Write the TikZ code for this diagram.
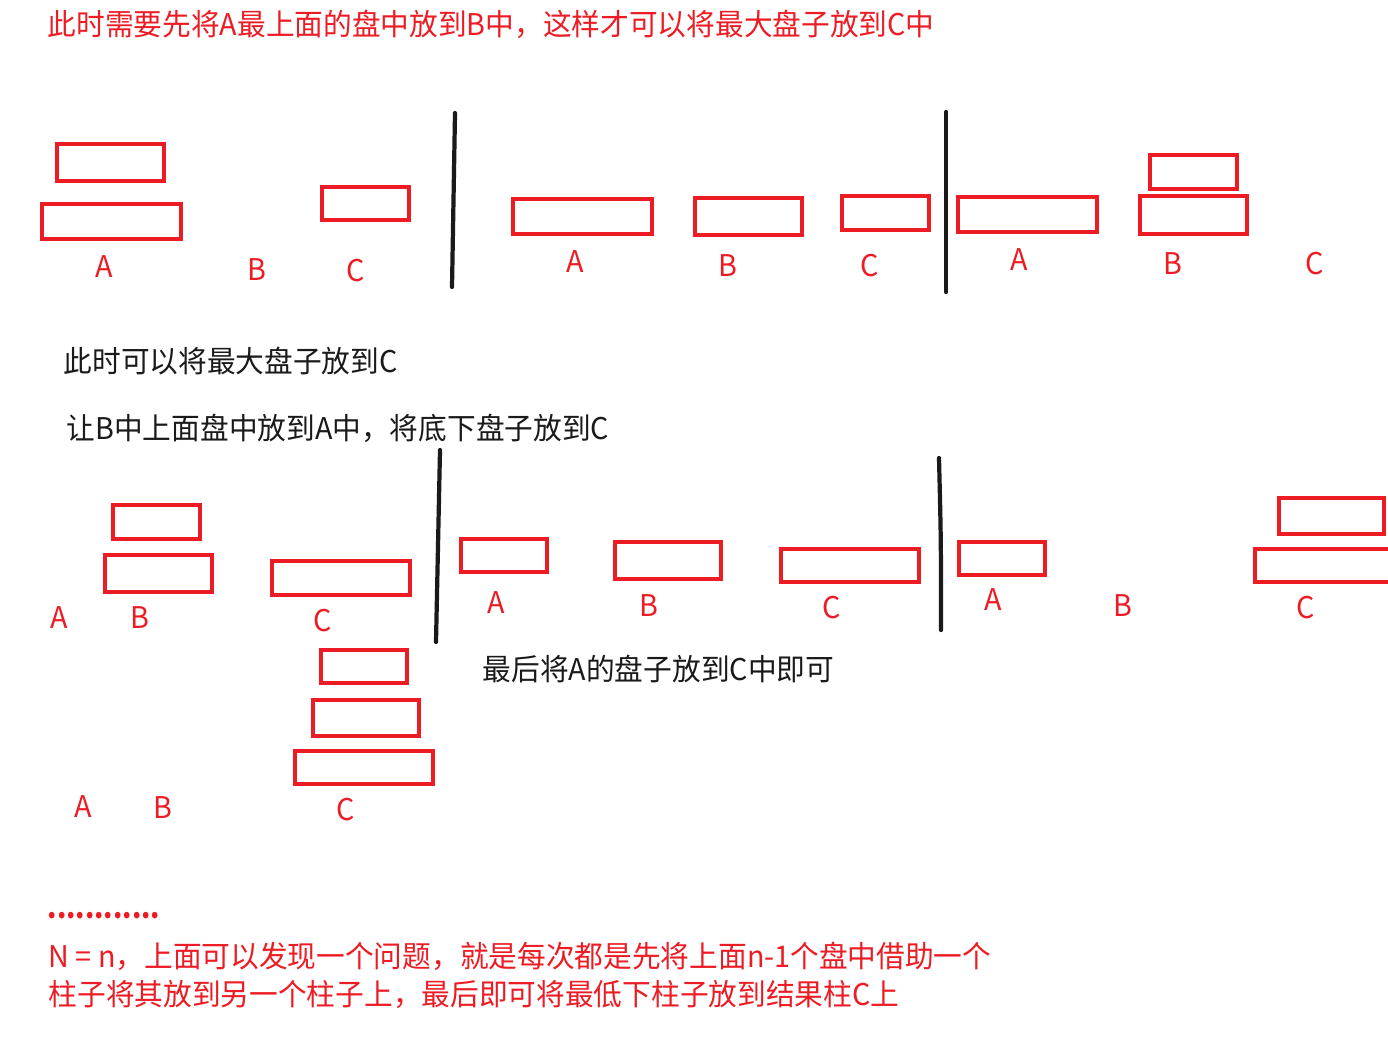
\documentclass[tikz,border=0pt]{standalone}
\usepackage{fontspec}
\setmainfont{Noto Sans CJK SC}[FakeStretch=0.96]
\usetikzlibrary{positioning}
\definecolor{hanoired}{HTML}{ED1C24}
\definecolor{ink}{HTML}{1A1A1A}

\begin{document}
\begin{tikzpicture}[x=0.01cm,y=-0.01cm, every node/.style={inner sep=0pt,font=\fontsize{8.5}{10}\selectfont},
  disk/.style={draw=hanoired,line width=1.15pt},
  peg/.style={text=hanoired},
  note/.style={anchor=west},
  cut/.style={line width=1.2pt,line cap=round,ink}]
\useasboundingbox (0,0) rectangle (1388,1059);
\node[note,text=hanoired] (t1) at (47,24) {此时需要先将A最上面的盘中放到B中，这样才可以将最大盘子放到C中};
\node[disk,minimum width=1.07cm,minimum height=0.37cm] (s1a1) at (110.5,162.5) {};
\node[disk,minimum width=1.39cm,minimum height=0.35cm] (s1a2) at (111.5,221.5) {};
\node[disk,minimum width=0.87cm,minimum height=0.33cm] (s1c1) at (365.5,203.5) {};
\node[peg] (s1A) at (104,267) {A}; \node[peg] (s1B) at (257,270) {B}; \node[peg] (s1C) at (356,271) {C};
\draw[cut] (455,113)--(452,287);
\node[disk,minimum width=1.39cm,minimum height=0.35cm] (s2a1) at (582.5,216.5) {};
\node[disk,minimum width=1.07cm,minimum height=0.37cm] (s2b1) at (748.5,216.5) {};
\node[disk,minimum width=0.87cm,minimum height=0.34cm] (s2c1) at (885.5,213) {};
\node[peg] (s2A) at (575,262) {A}; \node[peg] (s2B) at (728,266) {B}; \node[peg] (s2C) at (870,266) {C};
\draw[cut] (946,112)--(946,292);
\node[disk,minimum width=1.39cm,minimum height=0.35cm] (s3a1) at (1027.5,214.5) {};
\node[disk,minimum width=0.87cm,minimum height=0.34cm] (s3b1) at (1193.5,172) {};
\node[disk,minimum width=1.07cm,minimum height=0.38cm] (s3b2) at (1193.5,215) {};
\node[peg] (s3A) at (1019,260) {A}; \node[peg] (s3B) at (1173,264) {B}; \node[peg] (s3C) at (1315,264) {C};
\node[note,text=ink] (t2) at (63,361) {此时可以将最大盘子放到C};
\node[note,text=ink] (t3) at (66,428) {让B中上面盘中放到A中，将底下盘子放到C};
\node[disk,minimum width=0.87cm,minimum height=0.34cm] (s4b1) at (156.5,522) {};
\node[disk,minimum width=1.07cm,minimum height=0.37cm] (s4b2) at (158.5,573.5) {};
\node[disk,minimum width=1.38cm,minimum height=0.34cm] (s4c1) at (341,578) {};
\node[peg] (s4A) at (59,618) {A}; \node[peg] (s4B) at (140,618) {B}; \node[peg] (s4C) at (323,621) {C};
\draw[cut] (440,450)--(436,642);
\node[disk,minimum width=0.86cm,minimum height=0.33cm] (s5a1) at (504,555.5) {};
\node[disk,minimum width=1.06cm,minimum height=0.37cm] (s5b1) at (668,560.5) {};
\node[disk,minimum width=1.38cm,minimum height=0.33cm] (s5c1) at (850,565.5) {};
\node[peg] (s5A) at (496,603) {A}; \node[peg] (s5B) at (649,606) {B}; \node[peg] (s5C) at (832,608) {C};
\draw[cut] (939,458)..controls (941,540)..(941,630);
\node[disk,minimum width=0.86cm,minimum height=0.33cm] (s6a1) at (1002,558.5) {};
\node[disk,minimum width=1.05cm,minimum height=0.36cm] (s6c1) at (1331.5,516) {};
\node[disk,minimum width=1.38cm,minimum height=0.33cm] (s6c2) at (1324,565.5) {};
\node[peg] (s6A) at (993,600) {A}; \node[peg] (s6B) at (1123,606) {B}; \node[peg] (s6C) at (1306,608) {C};
\node[note,text=ink] (t4) at (482,669) {最后将A的盘子放到C中即可};
\node[disk,minimum width=0.86cm,minimum height=0.33cm] (s7c1) at (364,666.5) {};
\node[disk,minimum width=1.06cm,minimum height=0.36cm] (s7c2) at (366,718) {};
\node[disk,minimum width=1.38cm,minimum height=0.33cm] (s7c3) at (364,767.5) {};
\node[peg] (s7A) at (83,807) {A}; \node[peg] (s7B) at (163,808) {B}; \node[peg] (s7C) at (346,810) {C};
\node[note,text=hanoired,anchor=base west] (dots) at (47,918) {\scalebox{0.93}[1]{\bfseries ............}};
\node[note,text=hanoired] (t5) at (48,956) {N = n，上面可以发现一个问题，就是每次都是先将上面n-1个盘中借助一个};
\node[note,text=hanoired] (t6) at (48,994) {柱子将其放到另一个柱子上，最后即可将最低下柱子放到结果柱C上};
\end{tikzpicture}
\end{document}
